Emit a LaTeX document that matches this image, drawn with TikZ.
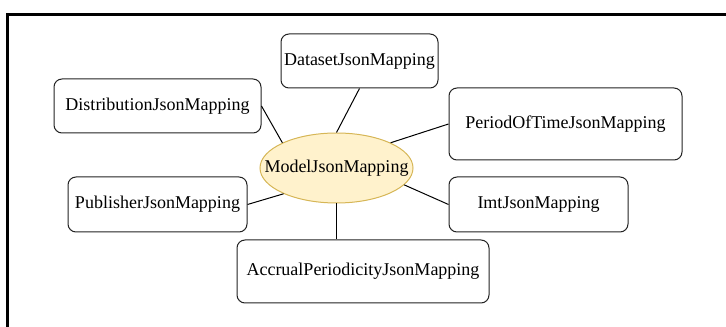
\documentclass[tikz,border=0pt]{standalone}
\usepackage{fontspec}
\setmainfont{Liberation Serif}
\usetikzlibrary{shapes.geometric}
\definecolor{modelfill}{HTML}{FFF2CC}
\definecolor{modeldraw}{HTML}{D6B656}
\definecolor{boxline}{HTML}{222222}
\begin{document}
\begin{tikzpicture}[x=0.75pt,y=-0.75pt,
  mapbox/.style={draw=boxline,line width=0.75pt,rounded corners=6pt,fill=white,
    inner sep=0pt,font=\fontsize{13.5}{16}\selectfont},
  hub/.style={ellipse,draw=modeldraw,fill=modelfill,line width=0.75pt,inner sep=0pt,
    minimum width=153*0.75pt,minimum height=70*0.75pt,font=\fontsize{13.5}{16}\selectfont},
  link/.style={draw=black,line width=0.75pt}]
\useasboundingbox (0,0) rectangle (726,327);
% outer frame (only top and left edges fall inside the page)
\draw[line width=1.6pt] (7.5,327) -- (7.5,14.5) -- (726,14.5);

% hub; the label is boxed at zero width so the ellipse keeps its set size
\node[hub] (model) at (336.5,168) {\makebox[0pt]{ModelJsonMapping}};

% mapping boxes
\node[mapbox,minimum width=157*0.75pt,minimum height=54*0.75pt] (dataset) at (359.5,61) {DatasetJsonMapping};
\node[mapbox,minimum width=207*0.75pt,minimum height=54*0.75pt] (distribution) at (157.5,106) {DistributionJsonMapping};
\node[mapbox,minimum width=233*0.75pt,minimum height=72*0.75pt] (period) at (565.5,124) {PeriodOfTimeJsonMapping};
\node[mapbox,minimum width=179*0.75pt,minimum height=55*0.75pt] (publisher) at (157.5,204.5) {PublisherJsonMapping};
\node[mapbox,minimum width=179*0.75pt,minimum height=55*0.75pt] (imt) at (538.5,204.5) {ImtJsonMapping};
\node[mapbox,minimum width=252*0.75pt,minimum height=63*0.75pt] (accrual) at (363,271.5) {AccrualPeriodicityJsonMapping};

% connectors
\draw[link] (distribution.east) -- (model.155);
\draw[link] (dataset.south) -- (model.north);
\draw[link] (period.west) -- (model.25);
\draw[link] (publisher.east) -- (model.206);
\draw[link] (imt.west) -- (model.-14);
\draw[link] (model.south) -- (model.south |- accrual.north);
\end{tikzpicture}
\end{document}
